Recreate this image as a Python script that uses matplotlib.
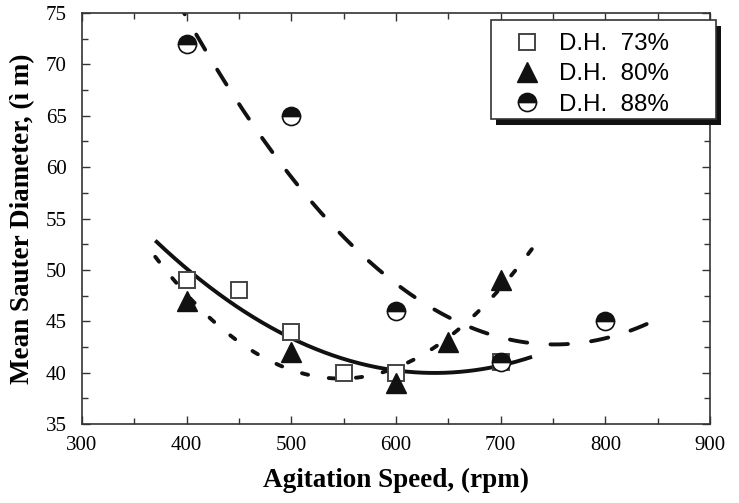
import numpy as np
import matplotlib
matplotlib.use("Agg")
import matplotlib.pyplot as plt
from matplotlib.patches import Rectangle
from matplotlib.ticker import MultipleLocator

# Measured drop sizes at each degree of hydrolysis
speed_73 = [400, 450, 500, 550, 600, 700]
d32_73 = [49, 48, 44, 40, 40, 41]
speed_80 = [400, 500, 600, 650, 700]
d32_80 = [47, 42, 39, 43, 49]
speed_88 = [400, 500, 600, 700, 800]
d32_88 = [72, 65, 46, 41, 45]

labels = ["D.H.  73%", "D.H.  80%", "D.H.  88%"]
fit_ranges = [(370, 730), (370, 730), (385, 845)]

W, H = 739, 503
fig = plt.figure(figsize=(W / 100, H / 100), dpi=100)
ax = fig.add_axes([82 / W, 1 - 424 / H, 628 / W, 411 / H])

serif = "Liberation Serif"
sans = "Liberation Sans"

# second-order trend lines through each series
def trend(x, y, rng):
    c = np.polyfit(x, y, 2)
    xs = np.linspace(rng[0], rng[1], 300)
    return xs, np.polyval(c, xs)

xs, ys = trend(speed_73, d32_73, fit_ranges[0])
ax.plot(xs, ys, color="#111111", lw=2.8, solid_capstyle="butt", zorder=2)
xs, ys = trend(speed_80, d32_80, fit_ranges[1])
ax.plot(xs, ys, color="#111111", lw=2.8, dashes=(1.6, 5.4), dash_capstyle="round", zorder=2)
xs, ys = trend(speed_88, d32_88, fit_ranges[2])
ax.plot(xs, ys, color="#111111", lw=2.8, dashes=(4.5, 6.0), dash_capstyle="round", zorder=2)

h1, = ax.plot(speed_73, d32_73, ls="none", marker="s", ms=11, mfc="white",
              mec="#444444", mew=1.4, label=labels[0], zorder=3)
h2, = ax.plot(speed_80, d32_80, ls="none", marker="^", ms=14, mfc="#111111",
              mec="#111111", label=labels[1], zorder=3)
h3, = ax.plot(speed_88, d32_88, ls="none", marker="o", ms=13, fillstyle="top",
              mfc="#111111", markerfacecoloralt="white", mec="#111111", mew=1.2,
              label=labels[2], zorder=3)

ax.set_xlim(300, 900)
ax.set_ylim(35, 75)
ax.xaxis.set_major_locator(MultipleLocator(100))
ax.xaxis.set_minor_locator(MultipleLocator(50))
ax.yaxis.set_major_locator(MultipleLocator(5))
ax.yaxis.set_minor_locator(MultipleLocator(2.5))
ax.tick_params(which="both", direction="in", top=True, right=True, color="#333333")
ax.tick_params(which="major", length=6, width=1)
ax.tick_params(which="minor", length=4, width=1)
ax.tick_params(axis="both", which="major", labelsize=15)
ax.tick_params(axis="x", which="major", pad=9)
ax.tick_params(axis="y", which="major", pad=11)
for lab in ax.get_xticklabels() + ax.get_yticklabels():
    lab.set_fontfamily(serif)
for sp in ax.spines.values():
    sp.set_color("#333333")
    sp.set_linewidth(1.2)

ax.set_xlabel("Agitation Speed, (rpm)", fontfamily=serif, fontweight="bold",
              fontsize=19.5, labelpad=9)
ax.set_ylabel("Mean Sauter Diameter, (ì m)", fontfamily=serif, fontweight="bold",
              fontsize=19.5, labelpad=7.5)

# legend box with a solid drop shadow
frame = (491, 20, 716, 119)
fig.patches.append(Rectangle(((frame[0] + 5) / W, 1 - (frame[3] + 6) / H),
                             (frame[2] - frame[0]) / W, (frame[3] - frame[1]) / H,
                             transform=fig.transFigure, facecolor="#111111",
                             edgecolor="none", zorder=4))
fig.patches.append(Rectangle((frame[0] / W, 1 - frame[3] / H),
                             (frame[2] - frame[0]) / W, (frame[3] - frame[1]) / H,
                             transform=fig.transFigure, facecolor="white",
                             edgecolor="#333333", lw=1.2, zorder=4.5))

leg = fig.legend(handles=[h1, h2, h3], loc="upper left",
                 bbox_to_anchor=(508 / W, 1 - 33 / H), bbox_transform=fig.transFigure,
                 prop={"family": sans, "size": 17.4}, frameon=False,
                 borderpad=0, handletextpad=0.5, labelspacing=0.35,
                 handlelength=1.6, borderaxespad=0)
leg.set_zorder(5)

fig.savefig("out.png", dpi=100)
